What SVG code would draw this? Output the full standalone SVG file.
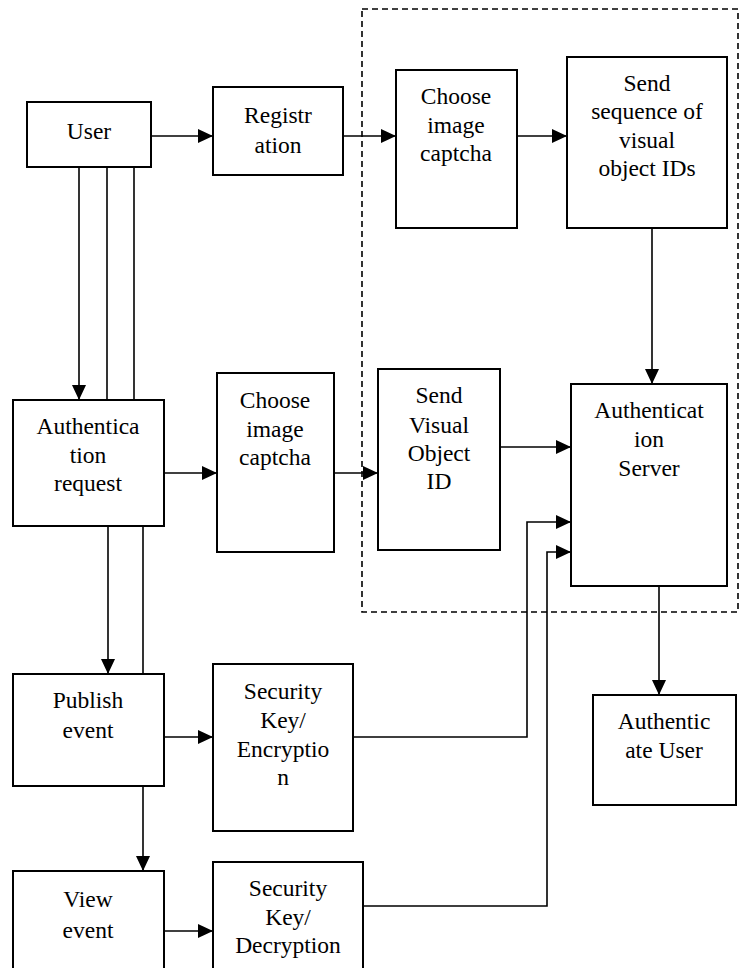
<svg xmlns="http://www.w3.org/2000/svg" width="745" height="968" viewBox="0 0 745 968">
<style>
.box{fill:#fff;stroke:#000;stroke-width:2}
.ln{fill:none;stroke:#000;stroke-width:1.6}
.ar{fill:none;stroke:#000;stroke-width:1.6;marker-end:url(#ah)}
.dash{fill:none;stroke:#000;stroke-width:1.6;stroke-dasharray:6,4}
text{font-family:'Liberation Serif','Times New Roman',Times,serif;font-size:23.5px;text-anchor:middle;fill:#000}
</style>
<defs>
<marker id="ah" markerUnits="userSpaceOnUse" markerWidth="15" markerHeight="14" refX="15" refY="7" orient="auto">
<path d="M0,0 L15,7 L0,14 Z" fill="#000"/>
</marker>
</defs>
<rect class="dash" x="362" y="9" width="376" height="603"/>
<g id="connectors">
<path class="ar" d="M151,136 H213"/>
<path class="ar" d="M343,136 H396"/>
<path class="ar" d="M517,136 H567"/>
<path class="ar" d="M652,228 V384"/>
<path class="ar" d="M79,167 V400"/>
<path class="ln" d="M107,167 V400"/>
<path class="ln" d="M134,167 V400"/>
<path class="ar" d="M164,473 H217"/>
<path class="ar" d="M334,473 H378"/>
<path class="ar" d="M500,447 H571"/>
<path class="ar" d="M108,526 V674"/>
<path class="ln" d="M143,526 V674"/>
<path class="ar" d="M164,737 H213"/>
<path class="ar" d="M353,737 H527 V522 H571"/>
<path class="ar" d="M143,786 V871"/>
<path class="ar" d="M164,931 H213"/>
<path class="ar" d="M363,906 H547 V552 H571"/>
<path class="ar" d="M659,586 V695"/>
</g>
<g id="user"><rect class="box" x="27" y="102" width="124" height="65"/><text x="89" y="139">User</text></g>
<g id="registration"><rect class="box" x="213" y="87" width="130" height="88"/><text x="278" y="123">Registr</text><text x="278" y="153">ation</text></g>
<g id="choose1"><rect class="box" x="396" y="70" width="121" height="158"/><text x="456" y="104">Choose</text><text x="456" y="133">image</text><text x="456" y="161">captcha</text></g>
<g id="sendseq"><rect class="box" x="567" y="57" width="160" height="171"/><text x="647" y="91">Send</text><text x="647" y="119">sequence of</text><text x="647" y="148">visual</text><text x="647" y="176">object IDs</text></g>
<g id="authreq"><rect class="box" x="13" y="400" width="151" height="126"/><text x="88" y="434">Authentica</text><text x="88" y="463">tion</text><text x="88" y="491">request</text></g>
<g id="choose2"><rect class="box" x="217" y="373" width="117" height="179"/><text x="275" y="408">Choose</text><text x="275" y="437">image</text><text x="275" y="465">captcha</text></g>
<g id="sendvid"><rect class="box" x="378" y="369" width="122" height="181"/><text x="439" y="403">Send</text><text x="439" y="433">Visual</text><text x="439" y="461">Object</text><text x="439" y="489">ID</text></g>
<g id="authserver"><rect class="box" x="571" y="384" width="156" height="202"/><text x="649" y="418">Authenticat</text><text x="649" y="447">ion</text><text x="649" y="476">Server</text></g>
<g id="publish"><rect class="box" x="13" y="674" width="151" height="112"/><text x="88" y="708">Publish</text><text x="88" y="738">event</text></g>
<g id="encryption"><rect class="box" x="213" y="664" width="140" height="167"/><text x="283" y="699">Security</text><text x="283" y="728">Key/</text><text x="283" y="757">Encryptio</text><text x="283" y="785">n</text></g>
<g id="authuser"><rect class="box" x="593" y="695" width="143" height="110"/><text x="664" y="729">Authentic</text><text x="664" y="758">ate User</text></g>
<g id="view"><rect class="box" x="13" y="871" width="151" height="110"/><text x="88" y="907">View</text><text x="88" y="938">event</text></g>
<g id="decryption"><rect class="box" x="213" y="862" width="150" height="120"/><text x="288" y="896">Security</text><text x="288" y="925">Key/</text><text x="288" y="953">Decryption</text></g>
</svg>
